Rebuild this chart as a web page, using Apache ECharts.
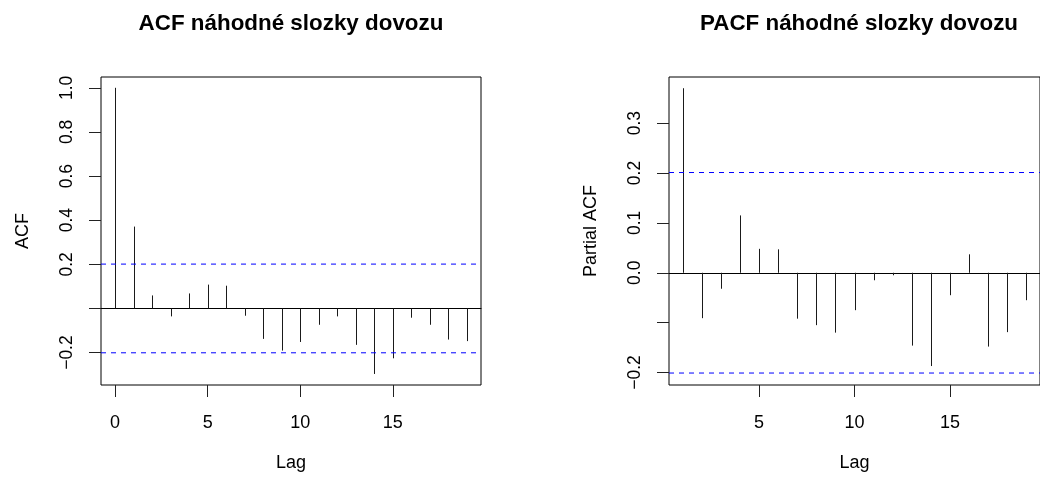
<!DOCTYPE html>
<html>
<head>
<meta charset="utf-8">
<title>ACF / PACF náhodné slozky dovozu</title>
<script src="https://cdn.jsdelivr.net/npm/echarts@6/dist/echarts.min.js"></script>
<style>
  html, body { margin: 0; padding: 0; background: #fff; }
  #chart { width: 1040px; height: 477px; }
</style>
</head>
<body>
<div id="chart"></div>
<script>
// hodnoty
var acfLags = [0, 1, 2, 3, 4, 5, 6, 7, 8, 9, 10, 11, 12, 13, 14, 15, 16, 17, 18, 19];
var acfValues = [1.0, 0.371, 0.059, -0.036, 0.068, 0.108, 0.103, -0.033, -0.138, -0.191,
  -0.152, -0.074, -0.036, -0.165, -0.297, -0.226, -0.042, -0.074, -0.141, -0.148];

var pacfLags = [1, 2, 3, 4, 5, 6, 7, 8, 9, 10, 11, 12, 13, 14, 15, 16, 17, 18, 19];
var pacfValues = [0.370, -0.091, -0.032, 0.115, 0.048, 0.047, -0.092, -0.105, -0.120,
  -0.075, -0.015, -0.005, -0.146, -0.187, -0.045, 0.037, -0.148, -0.119, -0.055];

var ciBound = 0.201; // 1.96/sqrt(n)

var acfXTicks = [0, 5, 10, 15];
var acfYTicks = [-0.2, 0, 0.2, 0.4, 0.6, 0.8, 1.0];
var acfYLabels = [-0.2, 0.2, 0.4, 0.6, 0.8, 1.0];
var pacfXTicks = [5, 10, 15];
var pacfYTicks = [-0.2, -0.1, 0, 0.1, 0.2, 0.3];
var pacfYLabels = [-0.2, 0, 0.1, 0.2, 0.3];

// rozsahy os (jako v R: +-4 %)
var acfXRange = [-0.76, 19.76];
var acfYRange = [-0.347, 1.049];
var pacfXRange = [0.28, 19.72];
var pacfYRange = [-0.225, 0.3925];

var FONT = '"Liberation Sans", Arial, Helvetica, sans-serif';

function toPairs(xs, ys) {
  return xs.map(function (x, i) { return [x, ys[i]]; });
}

function yFmt(v) {
  return v.toFixed(1).replace('-', '\u2212');
}

// svislice od nuly (type = "h" v R)
function renderSpike(params, api) {
  var p0 = api.coord([api.value(0), 0]);
  var p1 = api.coord([api.value(0), api.value(1)]);
  var x = Math.round(p0[0]) + 0.5;
  return {
    type: 'line',
    shape: { x1: x, y1: p0[1], x2: x, y2: p1[1] },
    style: { stroke: '#1a1a1a', lineWidth: 1 }
  };
}

function xAxisOpt(idx, range, ticks) {
  return {
    type: 'value', gridIndex: idx, min: range[0], max: range[1],
    name: 'Lag', nameLocation: 'middle', nameGap: 69,
    nameTextStyle: { fontFamily: FONT, fontSize: 18, color: '#000' },
    axisLine: { show: false, onZero: false },
    splitLine: { show: false },
    axisTick: { show: true, length: 12, lineStyle: { color: '#222' }, customValues: ticks },
    axisLabel: { fontFamily: FONT, fontSize: 18, color: '#000', margin: 29, customValues: ticks }
  };
}

// vodorovna cara v nule (abline h = 0)
function zeroAxisOpt(idx, range) {
  return {
    type: 'value', gridIndex: idx, min: range[0], max: range[1],
    axisLine: { show: true, onZero: true, lineStyle: { color: '#000', width: 1 } },
    axisTick: { show: false },
    axisLabel: { show: false },
    splitLine: { show: false }
  };
}

function yAxisOpt(idx, range, ticks, labels, name) {
  return {
    type: 'value', gridIndex: idx, min: range[0], max: range[1],
    name: name, nameLocation: 'middle', nameGap: 69, nameRotate: 90,
    nameTextStyle: { fontFamily: FONT, fontSize: 18, color: '#000' },
    axisLine: { show: false, onZero: false },
    splitLine: { show: false },
    axisTick: { show: true, length: 12, lineStyle: { color: '#222' }, customValues: ticks },
    axisLabel: {
      fontFamily: FONT, fontSize: 17.5, color: '#000', rotate: 90, margin: 25,
      customValues: labels, formatter: yFmt
    }
  };
}

// modre prerusovane meze
function ciSeries(idx, range, level) {
  return {
    type: 'line', xAxisIndex: idx, yAxisIndex: idx,
    data: [[range[0], level], [range[1], level]],
    symbol: 'none', silent: true, z: 3,
    lineStyle: { color: 'rgb(0,0,255)', type: [5, 5], width: 1 }
  };
}

var chart = echarts.init(document.getElementById('chart'), null, { renderer: 'canvas' });

chart.setOption({
  animation: false,
  backgroundColor: '#fff',
  title: [
    {
      text: 'ACF náhodné slozky dovozu', left: 291, top: 12, textAlign: 'center', padding: 0,
      textStyle: { fontFamily: FONT, fontSize: 22.4, fontWeight: 'bold', color: '#000', lineHeight: 24 }
    },
    {
      text: 'PACF náhodné slozky dovozu', left: 859, top: 12, textAlign: 'center', padding: 0,
      textStyle: { fontFamily: FONT, fontSize: 22.4, fontWeight: 'bold', color: '#000', lineHeight: 24 }
    }
  ],
  grid: [
    { left: 101, top: 77, width: 380, height: 308, show: true, borderColor: '#000', borderWidth: 1, backgroundColor: 'transparent' },
    { left: 669, top: 77, width: 380, height: 308, show: true, borderColor: '#000', borderWidth: 1, backgroundColor: 'transparent' }
  ],
  xAxis: [
    xAxisOpt(0, acfXRange, acfXTicks),
    xAxisOpt(1, pacfXRange, pacfXTicks),
    zeroAxisOpt(0, acfXRange),
    zeroAxisOpt(1, pacfXRange)
  ],
  yAxis: [
    yAxisOpt(0, acfYRange, acfYTicks, acfYLabels, 'ACF'),
    yAxisOpt(1, pacfYRange, pacfYTicks, pacfYLabels, 'Partial ACF')
  ],
  series: [
    {
      type: 'custom', xAxisIndex: 0, yAxisIndex: 0,
      data: toPairs(acfLags, acfValues),
      renderItem: renderSpike
    },
    {
      type: 'custom', xAxisIndex: 1, yAxisIndex: 1,
      data: toPairs(pacfLags, pacfValues),
      renderItem: renderSpike
    },
    ciSeries(0, acfXRange, ciBound),
    ciSeries(0, acfXRange, -ciBound),
    ciSeries(1, pacfXRange, ciBound),
    ciSeries(1, pacfXRange, -ciBound)
  ]
});
</script>
</body>
</html>
